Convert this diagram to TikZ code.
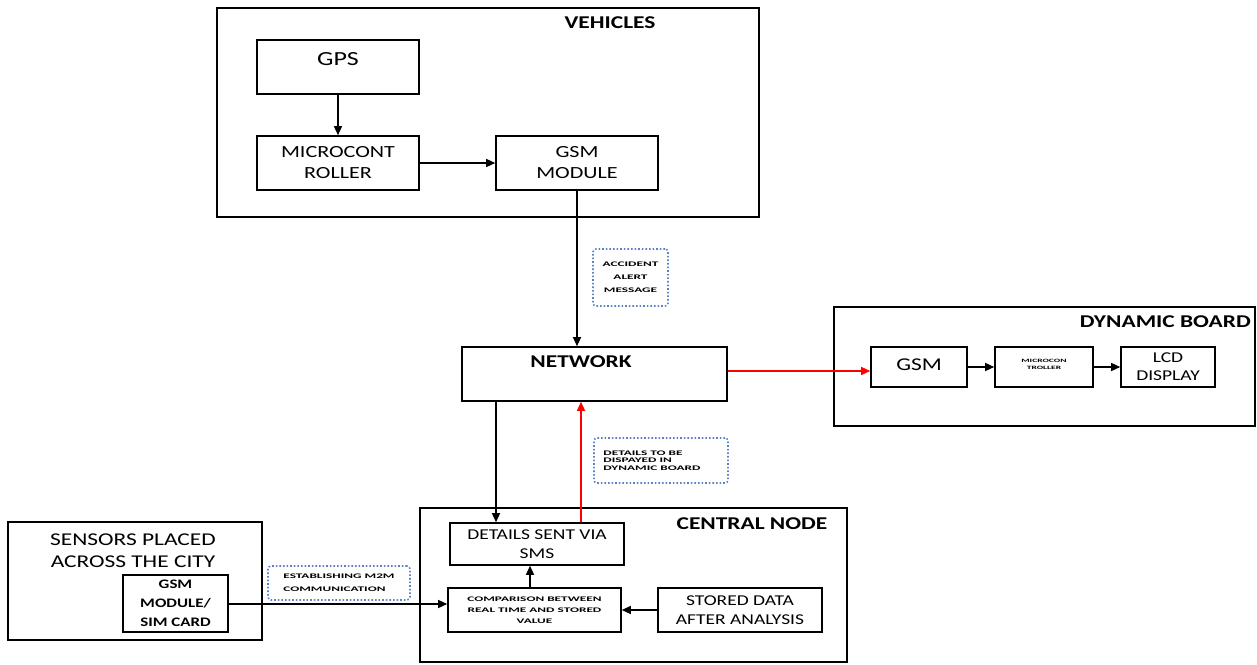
\documentclass[tikz,border=0pt]{standalone}
\usepackage{fontspec}
\setmainfont{Carlito}[FakeStretch=1.3]
\newfontfamily\widefont{Carlito}[FakeStretch=1.9]
\usetikzlibrary{arrows.meta}
\definecolor{dotblue}{RGB}{90,130,200}
\tikzset{
  box/.style={draw, line width=1.6pt, inner sep=0pt, align=center},
  outer/.style={draw, line width=1.3pt, inner sep=0pt},
  lbl/.style={inner sep=0pt, align=center},
  ttl/.style={inner sep=0pt, font=\fontsize{18}{20}\selectfont\bfseries},
  note/.style={draw=dotblue, dotted, line width=1.6pt, rounded corners=3pt, inner sep=0pt, align=left,
    font=\widefont\bfseries\fontsize{7}{13}\selectfont},
  arr/.style={line width=1.3pt, -{Triangle[length=9pt,width=8pt]}},
  redarr/.style={arr, red},
  mid/.style={font=\fontsize{17}{21}\selectfont},
}
\begin{document}
\begin{tikzpicture}[x=1pt,y=-1pt]
\useasboundingbox (0,0) rectangle (1257,664);
% outer frames
\node[outer, minimum width=542, minimum height=209] (veh) at (488,112.5) {};
\node[ttl] (vehT) at (610,23) {VEHICLES};
\node[outer, minimum width=421, minimum height=119] (dyn) at (1044.5,366.5) {};
\node[ttl, anchor=east] (dynT) at (1251,322) {DYNAMIC BOARD};
\node[outer, minimum width=427, minimum height=154] (cen) at (633.5,585) {};
\node[ttl] (cenT) at (752,524) {CENTRAL NODE};
\node[outer, minimum width=254, minimum height=118] (sen) at (135,581) {};
\node[lbl, font=\fontsize{18}{22}\selectfont] (senT) at (133,551) {SENSORS PLACED\\ACROSS THE CITY};
% vehicle boxes
\node[box, minimum width=162, minimum height=54] (gps) at (338,67) {};
\node[lbl, font=\fontsize{20}{22}\selectfont] (gpsT) at (338,59) {GPS};
\node[box, mid, minimum width=162, minimum height=54] (mcu) at (338,163) {MICROCONT\\ROLLER};
\node[box, mid, minimum width=162, minimum height=54] (gsm) at (577,163) {GSM\\MODULE};
% network
\node[box, minimum width=265, minimum height=54] (net) at (594.5,374) {};
\node[ttl] (netT) at (581,362) {NETWORK};
% dynamic board
\node[box, font=\fontsize{18}{20}\selectfont, minimum width=96, minimum height=40] (dgsm) at (919,367) {\raisebox{4pt}{GSM}};
\node[box, font=\widefont\bfseries\fontsize{5}{7}\selectfont, minimum width=98, minimum height=40] (dmcu) at (1044,367) {\raisebox{5pt}{\shortstack{MICROCON\\TROLLER}}};
\node[box, font=\fontsize{15}{18}\selectfont, minimum width=94, minimum height=40] (lcd) at (1168,367) {LCD\\DISPLAY};
% central node
\node[box, font=\fontsize{15}{19}\selectfont, minimum width=174, minimum height=42] (sms) at (537,544) {DETAILS SENT VIA\\SMS};
\node[box, font=\widefont\bfseries\fontsize{7}{11}\selectfont, minimum width=173, minimum height=44] (cmp) at (534.5,610) {COMPARISON BETWEEN\\REAL TIME AND STORED\\VALUE};
\node[box, font=\fontsize{15}{19}\selectfont, minimum width=164, minimum height=44] (sto) at (740,610) {STORED DATA\\AFTER ANALYSIS};
% sensor gsm
\node[box, font=\fontsize{13}{19}\selectfont\bfseries, minimum width=105, minimum height=57] (sgsm) at (175.5,603.5) {GSM\\MODULE/\\SIM CARD};
% notes
\node[note, minimum width=75, minimum height=57, align=center] (n1) at (630.5,277.5) {ACCIDENT\\ALERT\\MESSAGE};
\node[note, minimum width=134, minimum height=45] (n2) at (661,460.5) {\hspace*{-18pt}\shortstack[l]{DETAILS TO BE\\DISPAYED IN\\DYNAMIC BOARD}};
\node[note, minimum width=142, minimum height=34] (n3) at (339,583) {ESTABLISHING M2M\\COMMUNICATION};
% connectors
\draw[arr] (gps.south -| mcu.north) -- (mcu.north);
\draw[arr] (mcu.east) -- (gsm.west);
\draw[arr] (gsm.south) -- (gsm.south |- net.north);
\coordinate (a1) at (496,401);
\draw[arr] (net.south -| a1) -- (sms.north -| a1);
\coordinate (a2) at (581,401);
\draw[redarr] (sms.north -| a2) -- (net.south -| a2);
\coordinate (a4) at (727,371);
\draw[redarr] (net.east |- a4) -- (dgsm.west |- a4);
\draw[arr] (dgsm.east) -- (dmcu.west);
\draw[arr] (dmcu.east) -- (lcd.west);
\coordinate (a3) at (530,588);
\draw[arr] (cmp.north -| a3) -- (sms.south -| a3);
\draw[arr] (sto.west) -- (cmp.east);
\coordinate (a5) at (228,604);
\draw[arr] (sgsm.east |- a5) -- (cmp.west |- a5);
\end{tikzpicture}
\end{document}
